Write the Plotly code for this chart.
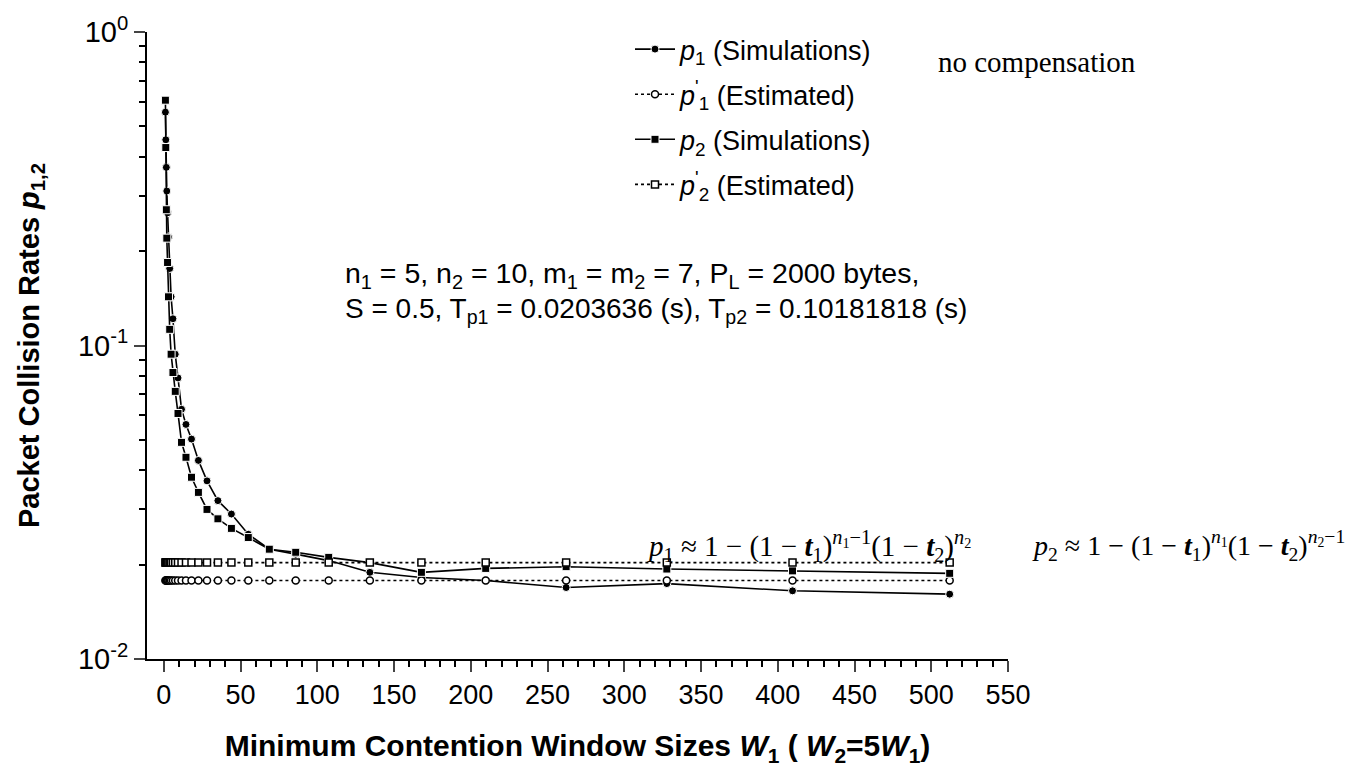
import plotly.graph_objects as go

# ---- data ----
W1 = [1.0, 1.25, 1.6, 1.9, 2.4, 3.0, 3.8, 4.7, 5.9, 7.4, 9.2, 11.5, 14.4, 18.0, 22.5,
      28.1, 35.2, 44.0, 55.0, 68.7, 85.9, 107.4, 134.2, 167.8, 209.7, 262.1, 327.7, 409.6, 512.0]

p1_sim = [0.555, 0.453, 0.37, 0.311, 0.265, 0.222, 0.176, 0.143, 0.1217, 0.0938, 0.0788,
          0.0626, 0.056, 0.0503, 0.043, 0.037, 0.032, 0.029, 0.025, 0.0224, 0.0216, 0.0206,
          0.0189, 0.0182, 0.0178, 0.0169, 0.0174, 0.0165, 0.0161]

p2_sim = [0.606, 0.428, 0.271, 0.22, 0.184, 0.143, 0.1126, 0.0938, 0.082, 0.0714, 0.0607,
          0.0491, 0.044, 0.038, 0.034, 0.030, 0.028, 0.0261, 0.0244, 0.0224, 0.0219, 0.0211,
          0.0203, 0.0189, 0.01945, 0.0197, 0.01936, 0.0191, 0.01876]

p1_est = [0.0178, 0.0178, 0.0178, 0.0178, 0.0178, 0.0178, 0.0178, 0.0178, 0.0178, 0.0178,
          0.0178, 0.0178, 0.0178, 0.0178, 0.0178, 0.0178, 0.0178, 0.0178, 0.0178, 0.0178,
          0.0178, 0.0178, 0.0178, 0.0178, 0.0178, 0.0178, 0.0178, 0.0178, 0.0178]

p2_est = [0.0203, 0.0203, 0.0203, 0.0203, 0.0203, 0.0203, 0.0203, 0.0203, 0.0203, 0.0203,
          0.0203, 0.0203, 0.0203, 0.0203, 0.0203, 0.0203, 0.0203, 0.0203, 0.0203, 0.0203,
          0.0203, 0.0203, 0.0203, 0.0203, 0.0203, 0.0203, 0.0203, 0.0203, 0.0203]

x_ticks = [0, 50, 100, 150, 200, 250, 300, 350, 400, 450, 500, 550]
y_tickvals = [0.01, 0.1, 1]
y_ticktext = ["10<sup>-2</sup>", "10<sup>-1</sup>", "10<sup>0</sup>"]
y_minor = [0.02, 0.03, 0.04, 0.05, 0.06, 0.07, 0.08, 0.09,
           0.2, 0.3, 0.4, 0.5, 0.6, 0.7, 0.8, 0.9]
x_minor = [v for v in range(10, 550, 10) if v % 50 != 0]

FONT = "Liberation Sans, Arial, sans-serif"
SERIF = "Liberation Serif, Times New Roman, serif"

L, R, T, B = 147, 1008, 27, 659
PW, PH = R - L, B - T


def px(xp):
    return (xp - L) / PW


def py(yp):
    return (B - yp) / PH


fig = go.Figure()

fig.add_trace(go.Scatter(
    x=W1, y=p1_sim, mode="lines+markers", name="<i>p</i><sub>1</sub> (Simulations)",
    line=dict(color="black", width=1.6),
    marker=dict(symbol="circle", size=8, color="black", line=dict(color="white", width=1)),
    legendgroup="a"))
fig.add_trace(go.Scatter(
    x=W1, y=p1_est, mode="lines+markers", name="<i>p</i><sup>'</sup><sub>1</sub> (Estimated)",
    line=dict(color="black", width=1.6, dash="dot"),
    marker=dict(symbol="circle", size=7, color="white", line=dict(color="black", width=1.5)),
    legendgroup="b"))
fig.add_trace(go.Scatter(
    x=W1, y=p2_sim, mode="lines+markers", name="<i>p</i><sub>2</sub> (Simulations)",
    line=dict(color="black", width=1.6),
    marker=dict(symbol="square", size=8, color="black", line=dict(color="white", width=1)),
    legendgroup="c"))
fig.add_trace(go.Scatter(
    x=W1, y=p2_est, mode="lines+markers", name="<i>p</i><sup>'</sup><sub>2</sub> (Estimated)",
    line=dict(color="black", width=1.6, dash="dot"),
    marker=dict(symbol="square", size=7, color="white", line=dict(color="black", width=1.5)),
    legendgroup="d"))

fig.update_layout(
    width=1359, height=775,
    margin=dict(l=L, r=1359 - R, t=T, b=775 - B),
    paper_bgcolor="white", plot_bgcolor="white",
    font=dict(family=FONT, size=26, color="black"),
    showlegend=True,
    legend=dict(x=px(630), y=py(20), xanchor="left", yanchor="top",
                bgcolor="rgba(0,0,0,0)", font=dict(size=27, family=FONT),
                tracegroupgap=7, itemwidth=40),
)

fig.update_xaxes(
    range=[-11, 550], tickvals=x_ticks, ticks="outside", ticklen=11, tickwidth=2,
    showline=True, linecolor="black", linewidth=2, showgrid=False, zeroline=False,
    tickfont=dict(size=27, family=FONT),
    minor=dict(tickvals=x_minor, ticks="outside", ticklen=6, tickwidth=2, tickcolor="black", showgrid=False),
    title=dict(text="<b>Minimum Contention Window Sizes <i>W</i><sub>1</sub> ( <i>W</i><sub>2</sub>=5<i>W</i><sub>1</sub>)</b>",
               font=dict(size=30, family=FONT), standoff=26),
)
fig.update_yaxes(
    type="log", range=[-2, 0], tickvals=y_tickvals, ticktext=y_ticktext,
    ticks="outside", ticklen=11, tickwidth=2,
    showline=True, linecolor="black", linewidth=2, showgrid=False, zeroline=False,
    tickfont=dict(size=29, family=FONT),
    minor=dict(tickvals=y_minor, ticks="outside", ticklen=6, tickwidth=2, tickcolor="black", showgrid=False),
    title=dict(text="<b>Packet Collision Rates <i>p</i><sub>1,2</sub></b>",
               font=dict(size=29, family=FONT), standoff=30),
)

# annotations
fig.add_annotation(xref="paper", yref="paper", x=px(1037), y=py(57),
                   text="no compensation", showarrow=False,
                   font=dict(family=SERIF, size=29), xanchor="center", yanchor="middle")
fig.add_annotation(xref="paper", yref="paper", x=px(343), y=py(272),
                   text="n<sub>1</sub> = 5, n<sub>2</sub> = 10, m<sub>1</sub> = m<sub>2</sub> = 7, P<sub>L</sub> = 2000 bytes,",
                   showarrow=False, font=dict(family=FONT, size=28.5), xanchor="left", yanchor="middle")
fig.add_annotation(xref="paper", yref="paper", x=px(343), y=py(308),
                   text="S = 0.5, T<sub>p1</sub> = 0.0203636 (s), T<sub>p2</sub> = 0.10181818 (s)",
                   showarrow=False, font=dict(family=FONT, size=28), xanchor="left", yanchor="middle")
fig.add_annotation(xref="paper", yref="paper", x=px(645), y=py(545),
                   text="<i>p</i><sub>1</sub> ≈ 1 − (1 − <b><i>t</i></b><sub>1</sub>)<sup><i>n</i><sub>1</sub>−1</sup>(1 − <b><i>t</i></b><sub>2</sub>)<sup><i>n</i><sub>2</sub></sup>",
                   showarrow=False, font=dict(family=SERIF, size=29), xanchor="left", yanchor="middle")
fig.add_annotation(xref="paper", yref="paper", x=px(1030), y=py(545),
                   text="<i>p</i><sub>2</sub> ≈ 1 − (1 − <b><i>t</i></b><sub>1</sub>)<sup><i>n</i><sub>1</sub></sup>(1 − <b><i>t</i></b><sub>2</sub>)<sup><i>n</i><sub>2</sub>−1</sup>",
                   showarrow=False, font=dict(family=SERIF, size=28), xanchor="left", yanchor="middle")

fig.write_html("out.html")
